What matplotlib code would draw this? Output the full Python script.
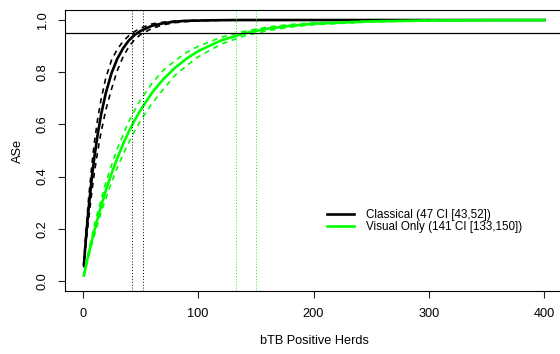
import matplotlib
matplotlib.use("Agg")
import matplotlib.pyplot as plt

plt.rcParams['font.family'] = ['Liberation Sans', 'DejaVu Sans']

herds = [1, 3, 5, 8, 10, 13, 16, 20, 25, 30, 35, 40, 45, 50, 60, 70, 80, 90,
         100, 120, 140, 160, 180, 200, 250, 300, 350, 400]

classical = [0.062, 0.174, 0.273, 0.399, 0.471, 0.563, 0.639, 0.720, 0.797, 0.852,
             0.892, 0.922, 0.943, 0.958, 0.978, 0.988, 0.994, 0.997, 0.998, 0.9995,
             1.0, 1.0, 1.0, 1.0, 1.0, 1.0, 1.0, 1.0]
classical_lo = [0.051, 0.147, 0.232, 0.345, 0.412, 0.498, 0.572, 0.655, 0.736, 0.807,
                0.859, 0.898, 0.925, 0.944, 0.968, 0.982, 0.990, 0.994, 0.997, 0.999,
                0.9997, 1.0, 1.0, 1.0, 1.0, 1.0, 1.0, 1.0]
classical_hi = [0.071, 0.201, 0.311, 0.449, 0.527, 0.622, 0.698, 0.778, 0.847, 0.888,
                0.919, 0.940, 0.956, 0.969, 0.985, 0.992, 0.996, 0.998, 0.999, 0.9998,
                1.0, 1.0, 1.0, 1.0, 1.0, 1.0, 1.0, 1.0]

visual = [0.021, 0.062, 0.101, 0.156, 0.191, 0.241, 0.288, 0.346, 0.412, 0.471,
          0.525, 0.573, 0.616, 0.654, 0.721, 0.774, 0.817, 0.852, 0.881, 0.922,
          0.949, 0.967, 0.978, 0.986, 0.995, 0.998, 0.9994, 0.9998]
visual_lo = [0.019, 0.055, 0.090, 0.142, 0.173, 0.219, 0.263, 0.315, 0.378, 0.435,
             0.485, 0.532, 0.575, 0.614, 0.680, 0.736, 0.788, 0.825, 0.859, 0.908,
             0.939, 0.959, 0.973, 0.982, 0.993, 0.9975, 0.9991, 0.9997]
visual_hi = [0.023, 0.067, 0.112, 0.172, 0.211, 0.264, 0.313, 0.377, 0.444, 0.507,
             0.561, 0.611, 0.654, 0.694, 0.757, 0.808, 0.844, 0.876, 0.899, 0.934,
             0.957, 0.973, 0.983, 0.989, 0.996, 0.9988, 0.9996, 0.9999]

threshold = 0.95
classical_ci = [43, 52]
visual_ci = [133, 150]
legend_labels = ["Classical (47 CI [43,52])", "Visual Only (141 CI [133,150])"]
xticks = [0, 100, 200, 300, 400]
yticks = [0.0, 0.2, 0.4, 0.6, 0.8, 1.0]

BLACK = "#000000"
GREEN = "#00FF00"

fig = plt.figure(figsize=(5.6, 3.54), dpi=100)
ax = fig.add_axes([65.4 / 560, 1 - 291.4 / 354, 497.4 / 560, 281.8 / 354])
ax.set_xlim(-15, 416)
ax.set_ylim(-0.04, 1.04)

dash = (0, (3.2, 2.8))
l1, = ax.plot(herds, classical, color=BLACK, lw=1.9, solid_joinstyle='round')
ax.plot(herds, classical_lo, color=BLACK, lw=1.2, linestyle=dash)
ax.plot(herds, classical_hi, color=BLACK, lw=1.2, linestyle=dash)
l2, = ax.plot(herds, visual, color=GREEN, lw=1.9, solid_joinstyle='round')
ax.plot(herds, visual_lo, color=GREEN, lw=1.2, linestyle=dash)
ax.plot(herds, visual_hi, color=GREEN, lw=1.2, linestyle=dash)

ax.axhline(threshold, color=BLACK, lw=0.9)
for v in classical_ci:
    ax.axvline(v, color=BLACK, lw=0.7, linestyle=(0, (1, 2)))
for v in visual_ci:
    ax.axvline(v, color=GREEN, lw=0.7, linestyle=(0, (1, 2)))

ax.set_xticks(xticks)
ax.set_xticklabels([str(t) for t in xticks])
ax.set_yticks(yticks)
ax.set_yticklabels([f"{t:.1f}" for t in yticks], rotation=90, va='center')
ax.tick_params(axis='both', length=5, width=0.8, labelsize=9.2, colors='#222222',
               labelcolor='black')
ax.tick_params(axis='x', pad=7)
ax.tick_params(axis='y', pad=7)
for s in ax.spines.values():
    s.set_linewidth(0.8)

ax.set_xlabel("bTB Positive Herds", fontsize=9.2, labelpad=11)
ax.set_ylabel("ASe", fontsize=9.2, labelpad=9)

leg = ax.legend([l1, l2], legend_labels, loc='center left', frameon=False,
                bbox_to_anchor=(327 / 560, 1 - 221 / 354), bbox_transform=fig.transFigure,
                fontsize=8.4, handlelength=2.3, handletextpad=1.05, labelspacing=0.0,
                borderpad=0, borderaxespad=0)

fig.savefig("out.png", dpi=100)
